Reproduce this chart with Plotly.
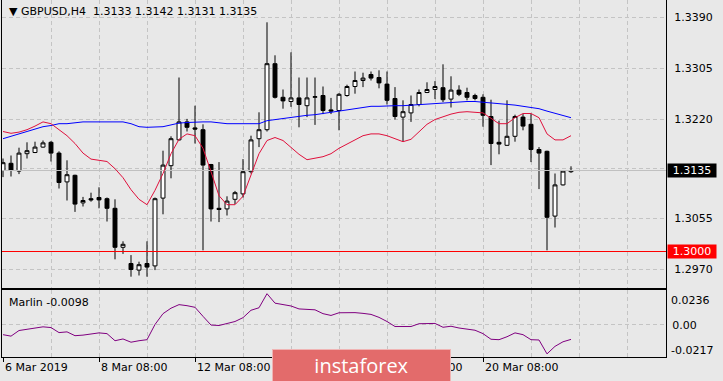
import plotly.graph_objects as go

# ---------------- data ----------------
bar_index = list(range(72))

open_ = [1.3135, 1.3147, 1.3134, 1.3163, 1.3165, 1.3174, 1.3182, 1.3164, 1.3116, 1.3127,
         1.3081, 1.3088, 1.3090, 1.3088, 1.3072, 1.3007, 1.2980, 1.2969, 1.2980, 1.2976,
         1.3089, 1.3143, 1.3186, 1.3216, 1.3206, 1.3203, 1.3145, 1.3072, 1.3071, 1.3087,
         1.3096, 1.3133, 1.3188, 1.3203, 1.3313, 1.3257, 1.3250, 1.3256, 1.3243, 1.3257,
         1.3260, 1.3236, 1.3235, 1.3260, 1.3275, 1.3285, 1.3295, 1.3290, 1.3279, 1.3255,
         1.3224, 1.3231, 1.3245, 1.3265, 1.3270, 1.3273, 1.3254, 1.3269, 1.3265, 1.3260,
         1.3257, 1.3225, 1.3182, 1.3177, 1.3192, 1.3224, 1.3212, 1.3170, 1.3167, 1.3059,
         1.3111, 1.3133]
high_ = [1.3155, 1.3160, 1.3173, 1.3182, 1.3183, 1.3185, 1.3184, 1.3167, 1.3152, 1.3128,
         1.3091, 1.3098, 1.3107, 1.3090, 1.3087, 1.3017, 1.2994, 1.2983, 1.3017, 1.3090,
         1.3168, 1.3192, 1.3290, 1.3221, 1.3243, 1.3212, 1.3146, 1.3149, 1.3092, 1.3101,
         1.3154, 1.3193, 1.3232, 1.3382, 1.3327, 1.3270, 1.3332, 1.3290, 1.3290, 1.3290,
         1.3275, 1.3256, 1.3264, 1.3278, 1.3300, 1.3298, 1.3300, 1.3302, 1.3300, 1.3274,
         1.3252, 1.3260, 1.3270, 1.3282, 1.3284, 1.3312, 1.3292, 1.3277, 1.3273, 1.3263,
         1.3262, 1.3253, 1.3218, 1.3252, 1.3228, 1.3229, 1.3229, 1.3174, 1.3168, 1.3130,
         1.3134, 1.3142]
low_ = [1.3124, 1.3125, 1.3129, 1.3155, 1.3164, 1.3173, 1.3150, 1.3105, 1.3085, 1.3066,
        1.3075, 1.3083, 1.3072, 1.3050, 1.2987, 1.2996, 1.2958, 1.2960, 1.2958, 1.2969,
        1.3062, 1.3122, 1.3185, 1.3200, 1.3180, 1.3002, 1.3050, 1.3049, 1.3060, 1.3079,
        1.3090, 1.3130, 1.3174, 1.3200, 1.3255, 1.3238, 1.3241, 1.3207, 1.3224, 1.3211,
        1.3229, 1.3229, 1.3202, 1.3258, 1.3263, 1.3274, 1.3285, 1.3272, 1.3245, 1.3220,
        1.3183, 1.3216, 1.3242, 1.3264, 1.3254, 1.3249, 1.3240, 1.3259, 1.3252, 1.3252,
        1.3208, 1.3144, 1.3162, 1.3176, 1.3183, 1.3202, 1.3149, 1.3104, 1.3002, 1.3040,
        1.3110, 1.3131]
close_ = [1.3148, 1.3135, 1.3164, 1.3168, 1.3174, 1.3181, 1.3164, 1.3115, 1.3128, 1.3079,
          1.3085, 1.3086, 1.3086, 1.3072, 1.3007, 1.3012, 1.2970, 1.2978, 1.2974, 1.3088,
          1.3144, 1.3188, 1.3216, 1.3207, 1.3204, 1.3144, 1.3071, 1.3070, 1.3084, 1.3098,
          1.3133, 1.3186, 1.3203, 1.3313, 1.3257, 1.3251, 1.3256, 1.3245, 1.3256, 1.3258,
          1.3235, 1.3234, 1.3262, 1.3275, 1.3285, 1.3289, 1.3289, 1.3281, 1.3252, 1.3225,
          1.3233, 1.3245, 1.3265, 1.3270, 1.3275, 1.3253, 1.3269, 1.3262, 1.3257, 1.3255,
          1.3227, 1.3180, 1.3179, 1.3192, 1.3225, 1.3209, 1.3170, 1.3164, 1.3057, 1.3111,
          1.3134, 1.3135]

ma_fast = [1.3200, 1.3197, 1.3199, 1.3203, 1.3209, 1.3216, 1.3213, 1.3203, 1.3193, 1.3180,
           1.3164, 1.3154, 1.3152, 1.3150, 1.3138, 1.3123, 1.3103, 1.3087, 1.3078, 1.3102,
           1.3130, 1.3163, 1.3187, 1.3196, 1.3193, 1.3172, 1.3133, 1.3093, 1.3078, 1.3078,
           1.3092, 1.3127, 1.3163, 1.3185, 1.3190, 1.3185, 1.3173, 1.3162, 1.3153, 1.3155,
           1.3158, 1.3163, 1.3172, 1.3179, 1.3186, 1.3193, 1.3196, 1.3196, 1.3193, 1.3188,
           1.3183, 1.3187, 1.3200, 1.3212, 1.3220, 1.3225, 1.3229, 1.3232, 1.3233, 1.3232,
           1.3231, 1.3222, 1.3213, 1.3213, 1.3223, 1.3230, 1.3230, 1.3223, 1.3196, 1.3186,
           1.3186, 1.3193]
ma_slow = [1.3188, 1.3192, 1.3197, 1.3201, 1.3204, 1.3208, 1.3210, 1.3213, 1.3213, 1.3215,
           1.3216, 1.3216, 1.3216, 1.3216, 1.3216, 1.3216, 1.3213, 1.3208, 1.3207, 1.3207,
           1.3208, 1.3211, 1.3214, 1.3215, 1.3216, 1.3216, 1.3216, 1.3214, 1.3213, 1.3213,
           1.3213, 1.3213, 1.3213, 1.3218, 1.3220, 1.3222, 1.3223, 1.3225, 1.3227, 1.3228,
           1.3230, 1.3231, 1.3233, 1.3236, 1.3238, 1.3239, 1.3242, 1.3242, 1.3243, 1.3243,
           1.3243, 1.3244, 1.3245, 1.3245, 1.3247, 1.3248, 1.3248, 1.3249, 1.3250, 1.3250,
           1.3249, 1.3248, 1.3247, 1.3246, 1.3244, 1.3242, 1.3240, 1.3238, 1.3234, 1.3230,
           1.3227, 1.3223]

marlin = [-0.0066, -0.0076, -0.0038, -0.0028, -0.0021, -0.0013, -0.0018, -0.0052, -0.0047, -0.0073,
          -0.0069, -0.0062, -0.0054, -0.0059, -0.0107, -0.0095, -0.0117, -0.0107, -0.0100, 0.0003,
          0.0076, 0.0113, 0.0137, 0.0130, 0.0119, 0.0058, -0.0001, -0.0004, 0.0010, 0.0023,
          0.0049, 0.0099, 0.0116, 0.0211, 0.0147, 0.0137, 0.0128, 0.0108, 0.0106, 0.0102,
          0.0076, 0.0064, 0.0082, 0.0083, 0.0083, 0.0078, 0.0071, 0.0051, 0.0023, -0.0011,
          -0.0013, -0.0011, 0.0008, 0.0010, 0.0010, -0.0016, -0.0009, -0.0021, -0.0028, -0.0036,
          -0.0059, -0.0097, -0.0100, -0.0080, -0.0054, -0.0066, -0.0100, -0.0102, -0.0196, -0.0145,
          -0.0114, -0.0098]

date_ticks = [0, 12, 24, 36, 48, 60]
date_labels = ["6 Mar 2019", "8 Mar 08:00", "12 Mar 08:00", "14 Mar 08:00",
               "18 Mar 08:00", "20 Mar 08:00"]
grid_ticks = [6, 18, 30, 42, 54, 66, 72, 78]
price_ticks = [1.2970, 1.3055, 1.3138, 1.3220, 1.3305, 1.3390]
price_labels = ["1.2970", "1.3055", "", "1.3220", "1.3305", "1.3390"]
level_price = 1.3000
marlin_max = 0.0236
marlin_min = -0.0217
symbol = "GBPUSD,H4"

# ---------------- figure ----------------
FONT = "DejaVu Sans"
BG = "#e8e8e8"
GRID = "#c4c4c4"
W, H = 723, 381
ML, MR, MT, MB = 2, 57, 0, 24
PH = H - MT - MB
main_dom = [(PH - 288 + MT) / PH, 1.0]
sub_dom = [0.0, (PH - 290 + MT) / PH]
xr = [-0.125, 82.875]
PX = 6000.0  # pixels per price unit in the main panel


def py(Y):
    return (H - MB - Y) / PH


last_close = close_[-1]

fig = go.Figure()
# horizontal price lines (current bid and the 1.3000 level), under the candles
fig.add_trace(go.Scatter(x=xr, y=[last_close, last_close], mode="lines",
                         line=dict(color="#c0c0c0", width=1), hoverinfo="skip",
                         showlegend=False, xaxis="x", yaxis="y", cliponaxis=True))
fig.add_trace(go.Scatter(x=xr, y=[level_price, level_price], mode="lines",
                         line=dict(color="#ff0000", width=1), hoverinfo="skip",
                         showlegend=False, xaxis="x", yaxis="y", cliponaxis=True))
fig.add_trace(go.Candlestick(
    x=bar_index, open=open_, high=high_, low=low_, close=close_,
    increasing=dict(line=dict(color="black", width=1), fillcolor="white"),
    decreasing=dict(line=dict(color="black", width=1), fillcolor="black"),
    whiskerwidth=0, hoverinfo="skip", showlegend=False, xaxis="x", yaxis="y"))
fig.add_trace(go.Scatter(x=bar_index, y=ma_slow, mode="lines",
                         line=dict(color="#0000ff", width=1), hoverinfo="skip",
                         showlegend=False, xaxis="x", yaxis="y"))
fig.add_trace(go.Scatter(x=bar_index, y=ma_fast, mode="lines",
                         line=dict(color="#e0103c", width=1), hoverinfo="skip",
                         showlegend=False, xaxis="x", yaxis="y"))
fig.add_trace(go.Scatter(x=bar_index, y=marlin, mode="lines",
                         line=dict(color="#800080", width=1), hoverinfo="skip",
                         showlegend=False, xaxis="x2", yaxis="y2"))

annotations = [
    dict(xref="paper", yref="paper", x=5 / (W - ML - MR), y=py(12),
         xanchor="left", yanchor="middle", showarrow=False,
         text="\u25bc\u00a0" + symbol + "\u00a0\u00a0" +
              "\u00a0".join(f"{v:.4f}" for v in (open_[-1], high_[-1], low_[-1], close_[-1])),
         font=dict(family=FONT, size=11, color="black")),
    dict(xref="paper", yref="paper", x=5 / (W - ML - MR), y=py(302),
         xanchor="left", yanchor="middle", showarrow=False,
         text=f"Marlin {marlin[-1]:.4f}", font=dict(family=FONT, size=11, color="black")),
    dict(xref="paper", yref="paper", x=1, xshift=3, y=py(300), xanchor="left", yanchor="middle",
         showarrow=False, text=f"{marlin_max:.4f}", font=dict(family=FONT, size=11, color="black")),
    dict(xref="paper", yref="paper", x=1, xshift=3, y=py(350), xanchor="left", yanchor="middle",
         showarrow=False, text=f"{marlin_min:.4f}", font=dict(family=FONT, size=11, color="black")),
    dict(xref="paper", yref="y", x=1, xshift=1, y=last_close, xanchor="left", yanchor="middle",
         showarrow=False, text=f"{last_close:.4f}", bgcolor="black", width=48, height=13,
         borderpad=0, font=dict(family=FONT, size=11, color="white")),
    dict(xref="paper", yref="y", x=1, xshift=1, y=level_price, xanchor="left", yanchor="middle",
         showarrow=False, text=f"{level_price:.4f}", bgcolor="#ff0000", width=48, height=13,
         borderpad=0, font=dict(family=FONT, size=11, color="white")),
]
for t, lab in zip(date_ticks, date_labels):
    annotations.append(dict(xref="x2", yref="paper", x=t, y=py(368), xanchor="left",
                            yanchor="middle", showarrow=False, text=lab,
                            font=dict(family=FONT, size=11, color="black")))
# watermark (drawn last so it covers the axis labels beneath it, as in the reference)
annotations.append(dict(xref="paper", yref="paper", x=(361.5 - ML) / (W - ML - MR), y=py(365),
                        xanchor="center", yanchor="middle", showarrow=False,
                        text="instaforex", width=177, height=31, borderpad=0,
                        bgcolor="#e36b6b", bordercolor="#f0b4b4", borderwidth=1,
                        font=dict(family="Open Sans", size=20, color="white")))

fig.update_layout(
    width=W, height=H, margin=dict(l=ML, r=MR, t=MT, b=MB),
    paper_bgcolor=BG, plot_bgcolor=BG, showlegend=False,
    font=dict(family=FONT, size=11, color="black"),
    xaxis=dict(domain=[0, 1], anchor="y", range=xr, rangeslider=dict(visible=False),
               tickvals=date_ticks, showticklabels=False, ticks="",
               showgrid=True, gridcolor=GRID, griddash="4px,3px", gridwidth=1,
               minor=dict(tickvals=grid_ticks, showgrid=True, gridcolor=GRID,
                          griddash="4px,3px", gridwidth=1, ticks=""),
               showline=True, linecolor="black", linewidth=1, mirror=False, zeroline=False),
    yaxis=dict(domain=main_dom, anchor="x", side="right",
               range=[1.3 - 36.5 / PX, 1.3 + 251.5 / PX],
               tickvals=price_ticks, ticktext=price_labels, ticks="", ticklabelstandoff=5,
               tickfont=dict(family=FONT, size=11, color="black"),
               showgrid=True, gridcolor=GRID, griddash="4px,3px", gridwidth=1,
               showline=True, linecolor="black", linewidth=1, mirror=True, zeroline=False),
    xaxis2=dict(domain=[0, 1], anchor="y2", range=xr, tickvals=date_ticks,
                showticklabels=False, ticks="outside", ticklen=4, tickcolor="black",
                showgrid=True, gridcolor=GRID, griddash="4px,3px", gridwidth=1,
                minor=dict(tickvals=grid_ticks, showgrid=True, gridcolor=GRID,
                           griddash="4px,3px", gridwidth=1, ticks=""),
                showline=True, linecolor="black", linewidth=1, mirror=True, zeroline=False),
    yaxis2=dict(domain=sub_dom, anchor="x2", side="right", range=[marlin_min, marlin_max],
                tickvals=[0], ticktext=["0.00"], ticks="", ticklabelstandoff=3,
                tickfont=dict(family=FONT, size=11, color="black"),
                showgrid=True, gridcolor=GRID, griddash="4px,3px", gridwidth=1,
                showline=True, linecolor="black", linewidth=1, mirror=True, zeroline=False),
    annotations=annotations,
)

fig.write_html("out.html")
